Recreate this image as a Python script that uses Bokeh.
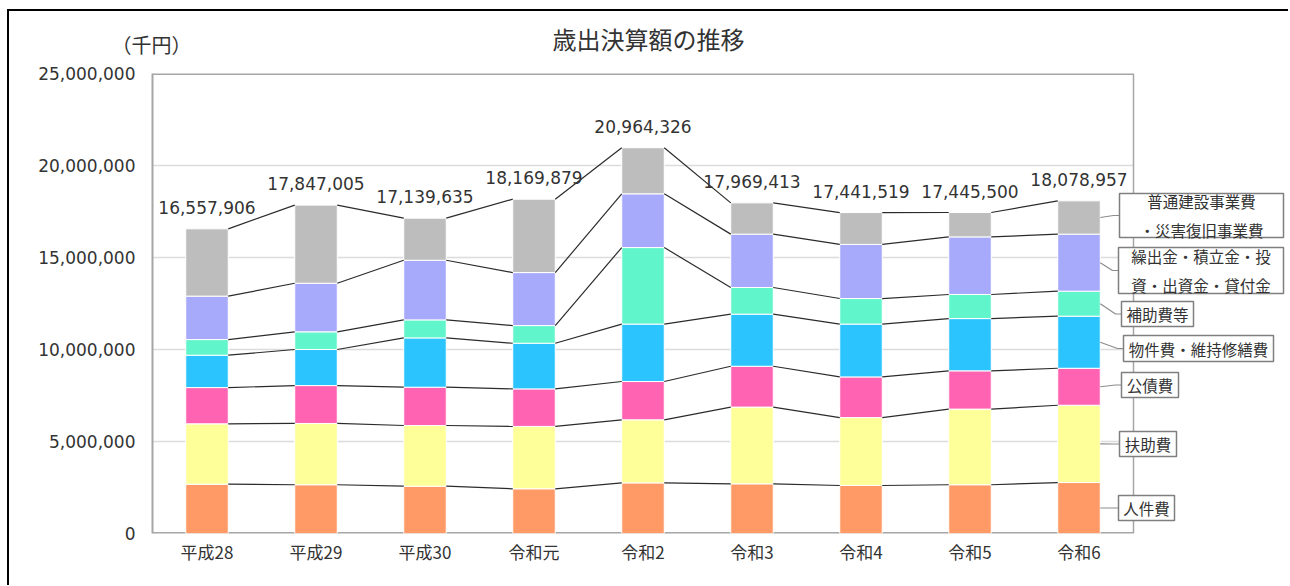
from bokeh.plotting import figure
from bokeh.models import Range1d, FixedTicker, NumeralTickFormatter
from bokeh.layouts import column
from bokeh.core.properties import value
from bokeh.embed import file_html
from bokeh.resources import INLINE
import numpy as np

# ---------------- data (千円) ----------------
years = ["平成28", "平成29", "平成30", "令和元", "令和2", "令和3", "令和4", "令和5", "令和6"]
series_names = ["人件費", "扶助費", "公債費", "物件費・維持修繕費", "補助費等",
                "繰出金・積立金・投\n資・出資金・貸付金", "普通建設事業費\n・災害復旧事業費"]
jinken = [2680000, 2650000, 2570000, 2430000, 2750000, 2700000, 2610000, 2650000, 2770000]
fujo = [3280000, 3330000, 3300000, 3390000, 3430000, 4170000, 3690000, 4110000, 4200000]
kosai = [1970000, 2060000, 2080000, 2040000, 2080000, 2220000, 2210000, 2080000, 2010000]
bukken = [1760000, 1960000, 2680000, 2480000, 3120000, 2830000, 2870000, 2840000, 2830000]
hojo = [850000, 960000, 980000, 960000, 4160000, 1450000, 1390000, 1310000, 1360000]
kuridashi = [2360000, 2640000, 3240000, 2880000, 2920000, 2900000, 2940000, 3130000, 3100000]
futsu = [3657906, 4247005, 2289635, 3989879, 2504326, 1699413, 1731519, 1325500, 1808957]
totals = [16557906, 17847005, 17139635, 18169879, 20964326, 17969413, 17441519, 17445500, 18078957]
y_ticks = [0, 5000000, 10000000, 15000000, 20000000, 25000000]
title_text = "歳出決算額の推移"
unit_text = "（千円）"

colors = ["#FF9966", "#FFFF99", "#FF63B1", "#2BC4FF", "#61F5CB", "#A7A9FB", "#BDBDBD"]

# ---------------- layout helpers ----------------
ORIGIN_X, ORIGIN_Y = 9, 11       # page position of content (after margin + border)
W = 1279
HEAD_H = 52
HEAD_TOP = 14
MAIN_H = 522
ML, MT = 143, 10
FRAME_H = 460
MB = MAIN_H - MT - FRAME_H
PLOT_LEFT_PX = ORIGIN_X + ML            # 152
FRAME_TOP_PX = ORIGIN_Y + HEAD_H + MT   # 73
FRAME_BOT_PX = FRAME_TOP_PX + FRAME_H   # 533
HEAD_BOT_PX = ORIGIN_Y + HEAD_H         # 63
PX_PER_CAT = 109.0
XEND = -0.5 + (W - ML) / PX_PER_CAT
YMAX = 25000000
BW = 0.39


def dx(px):
    return -0.5 + (px - PLOT_LEFT_PX) / PX_PER_CAT


def dy(py):
    return (FRAME_BOT_PX - py) / FRAME_H * YMAX


NUM_FONT = "DejaVu Sans"
JP_FONT = "Noto Sans CJK JP"
TXT = "#333333"

# ---------------- header (title + unit) ----------------
head = figure(width=W, height=HEAD_H,
              x_range=Range1d(PLOT_LEFT_PX, ORIGIN_X + W),
              y_range=Range1d(0, HEAD_H - HEAD_TOP),
              output_backend="svg", toolbar_location=None, x_axis_type=None,
              min_border_left=ML, min_border_right=0, min_border_top=HEAD_TOP,
              min_border_bottom=0)
head.outline_line_color = None
head.xgrid.visible = False
head.ygrid.visible = False
head.yaxis.ticker = FixedTicker(ticks=[])
head.yaxis.major_label_text_font_size = "0px"
head.yaxis.major_label_standoff = 0
head.yaxis.major_tick_out = 0
head.yaxis.major_tick_in = 0
head.yaxis.major_tick_line_color = None
head.yaxis.minor_tick_line_color = None
head.yaxis.axis_line_color = None
head.yaxis.axis_label = unit_text
head.yaxis.axis_label_orientation = "horizontal"
head.yaxis.axis_label_standoff = -39
head.yaxis.axis_label_text_font = JP_FONT
head.yaxis.axis_label_text_font_style = "normal"
head.yaxis.axis_label_text_font_size = "20px"
head.yaxis.axis_label_text_color = TXT
head.text(x=[648], y=[HEAD_BOT_PX - 38], text=[title_text],
          text_align="center", text_baseline="middle", text_font=value(JP_FONT),
          text_font_size="24px", text_color=TXT)

# ---------------- main chart ----------------
p = figure(width=W, height=MAIN_H, x_range=Range1d(-0.5, XEND), y_range=Range1d(0, YMAX),
           output_backend="svg", toolbar_location=None,
           min_border_left=ML, min_border_right=0, min_border_top=MT, min_border_bottom=MB)
p.outline_line_color = None
p.background_fill_color = "white"
p.border_fill_color = "white"
p.xgrid.visible = False
p.ygrid.visible = False

p.yaxis.ticker = FixedTicker(ticks=y_ticks)
p.yaxis.formatter = NumeralTickFormatter(format="0,0")
p.yaxis.major_tick_line_color = None
p.yaxis.minor_tick_line_color = None
p.yaxis.major_tick_out = 0
p.yaxis.major_tick_in = 0
p.yaxis.axis_line_color = "#A6A6A6"
p.yaxis.axis_line_width = 2
p.yaxis.major_label_text_font = NUM_FONT
p.yaxis.major_label_text_font_size = "17px"
p.yaxis.major_label_text_color = TXT
p.yaxis.major_label_standoff = 17

p.xaxis.ticker = FixedTicker(ticks=list(range(len(years))))
p.xaxis.major_label_overrides = {i: y for i, y in enumerate(years)}
p.xaxis.major_tick_line_color = None
p.xaxis.minor_tick_line_color = None
p.xaxis.major_tick_out = 0
p.xaxis.major_tick_in = 0
p.xaxis.axis_line_color = None
p.xaxis.major_label_text_font = JP_FONT
p.xaxis.major_label_text_font_size = "17px"
p.xaxis.major_label_text_color = TXT
p.xaxis.major_label_standoff = 5

# grid lines inside plot area
grid_vals = [t for t in y_ticks if 0 < t < YMAX]
p.segment(x0=[-0.5] * len(grid_vals), y0=grid_vals, x1=[8.5] * len(grid_vals), y1=grid_vals,
          line_color="#DCDCDC", line_width=1.5)
# plot-area border (top, right, bottom)
p.segment(x0=[-0.5, 8.5, -0.5], y0=[YMAX, 0, 0], x1=[8.5, 8.5, 8.5], y1=[YMAX, YMAX, 0],
          line_color="#A6A6A6", line_width=[3, 1.5, 3])

# stacked bars
stack = np.array([jinken, fujo, kosai, bukken, hojo, kuridashi, futsu], dtype=float)
cum = np.cumsum(stack, axis=0)
bottoms = np.vstack([np.zeros(len(years)), cum[:-1]])
xs = np.arange(len(years), dtype=float)
for k in range(len(series_names)):
    p.vbar(x=xs, width=BW, bottom=bottoms[k], top=cum[k], fill_color=colors[k],
           line_color="white", line_width=1)

# connector lines between bars
for k in range(len(series_names)):
    p.segment(x0=xs[:-1] + BW / 2, y0=cum[k][:-1], x1=xs[1:] - BW / 2, y1=cum[k][1:],
              line_color="#2b2b2b", line_width=1.2)

# total labels
p.text(x=xs, y=totals, text=[f"{t:,}" for t in totals], text_align="center",
       text_baseline="bottom", y_offset=-15, text_font=value(NUM_FONT),
       text_font_size="17px", text_color=TXT)

# callout boxes (page pixel layout: left, right, top, bottom)
boxes = [(1118, 1174, 495, 520), (1119, 1176, 431, 456), (1121, 1178, 372, 397),
         (1123, 1273, 335, 361), (1121, 1193, 301, 326), (1118, 1283, 247, 293),
         (1119, 1283, 193, 237)]
mids = (bottoms[:, -1] + cum[:, -1]) / 2.0
bar_edge = xs[-1] + BW / 2
lead_xs, lead_ys = [], []
for k, (l, r, t, b) in enumerate(boxes):
    bm = dy((t + b) / 2.0)
    lead_xs.append([bar_edge, dx(l - 6), dx(l)])
    lead_ys.append([mids[k], bm, bm])
p.multi_line(xs=lead_xs, ys=lead_ys, line_color="#8C8C8C", line_width=1.2)

p.quad(left=[dx(b[0]) for b in boxes], right=[dx(b[1]) for b in boxes],
       top=[dy(b[2]) for b in boxes], bottom=[dy(b[3]) for b in boxes],
       fill_color="white", line_color="#7F7F7F", line_width=1.5)
p.text(x=[dx((b[0] + b[1]) / 2.0) for b in boxes], y=[dy((b[2] + b[3]) / 2.0) for b in boxes],
       text=series_names, text_align="center", text_baseline="middle",
       text_font=value(JP_FONT), text_font_size="15.5px", text_color=TXT,
       text_line_height=1.3)

layout = column(head, p, spacing=0)
layout.styles = {"margin-left": "7px", "margin-top": "9px",
                 "border-left": "2px solid black", "border-top": "2px solid black"}

open("out.html", "w").write(file_html(layout, INLINE))
